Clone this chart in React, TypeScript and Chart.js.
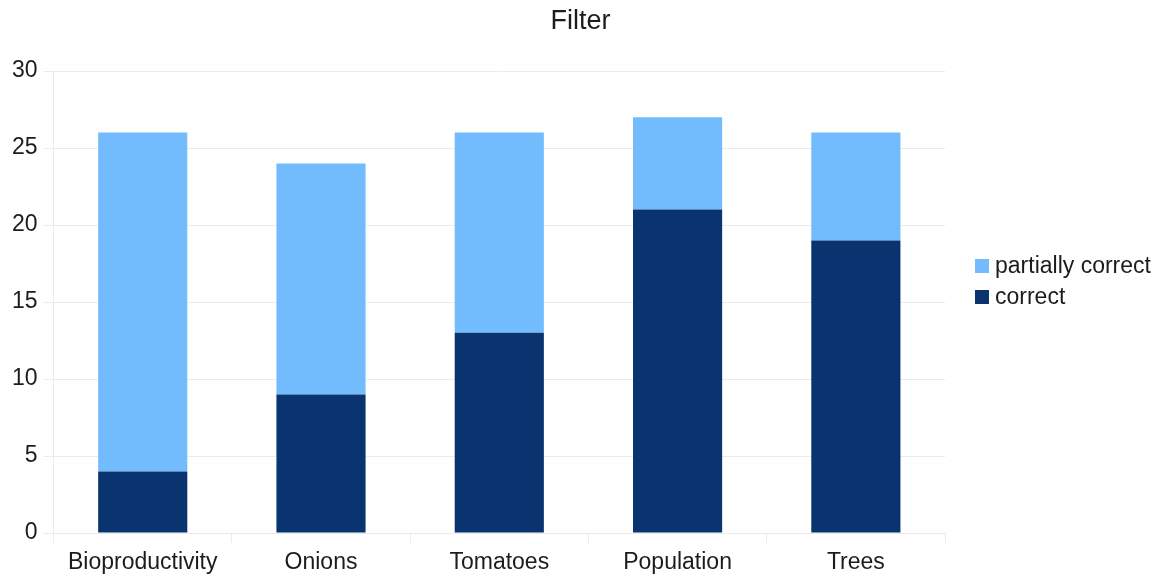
import React, { useEffect, useRef } from "react";
import { Chart, registerables } from "chart.js";

Chart.register(...registerables);

const categories = ["Bioproductivity", "Onions", "Tomatoes", "Population", "Trees"];
const correct = [4, 9, 13, 21, 19];
const partiallyCorrect = [22, 15, 13, 6, 7];
const yTicks = [0, 5, 10, 15, 20, 25, 30];
const titleText = "Filter";

const FONT = "'Liberation Sans', Arial, sans-serif";
const TEXT = "#1c1c1c";
const GRID = "#ebebeb";

const decorations = {
  id: "decorations",
  afterDraw(chart: any) {
    const ctx = chart.ctx;
    const area = chart.chartArea;
    ctx.save();
    // title centered on the whole canvas
    ctx.font = `27px ${FONT}`;
    ctx.fillStyle = TEXT;
    ctx.textAlign = "center";
    ctx.textBaseline = "middle";
    ctx.fillText(titleText, chart.width / 2, 22);
    // legend on the right
    const items = chart.data.datasets.slice().reverse();
    const rowH = 31;
    const startY = chart.height / 2 - 8 - ((items.length - 1) * rowH) / 2;
    const x = area.right + 30;
    ctx.font = `23px ${FONT}`;
    ctx.textAlign = "left";
    items.forEach((ds: any, i: number) => {
      const cy = startY + i * rowH;
      ctx.fillStyle = ds.backgroundColor;
      ctx.fillRect(x, cy - 7, 14, 14);
      ctx.fillStyle = TEXT;
      ctx.fillText(ds.label, x + 20, cy + 1);
    });
    ctx.restore();
  },
};

export default function App() {
  const ref = useRef<HTMLCanvasElement | null>(null);
  useEffect(() => {
    if (!ref.current) return;
    const chart = new Chart(ref.current, {
      type: "bar",
      data: {
        labels: categories,
        datasets: [
          {
            label: "correct",
            data: correct,
            backgroundColor: "#0a346f",
            borderWidth: 0,
            barPercentage: 0.5,
            categoryPercentage: 1,
            stack: "s",
          },
          {
            label: "partially correct",
            data: partiallyCorrect,
            backgroundColor: "#72bcfe",
            borderWidth: 0,
            barPercentage: 0.5,
            categoryPercentage: 1,
            stack: "s",
          },
        ],
      },
      plugins: [decorations],
      options: {
        animation: false,
        responsive: false,
        maintainAspectRatio: false,
        layout: { padding: { top: 71, right: 216, bottom: 0, left: 6 } },
        plugins: {
          title: { display: false },
          legend: { display: false },
          tooltip: { enabled: false },
        },
        scales: {
          x: {
            stacked: true,
            afterFit: (scale: any) => {
              scale.height = 46;
            },
            grid: {
              offset: true,
              tickLength: 10,
              color: (c: any) => (c.index === 0 || c.index === categories.length ? GRID : "rgba(0,0,0,0)"),
              tickColor: GRID,
            },
            border: { color: GRID },
            ticks: { color: TEXT, font: { family: FONT, size: 23 }, padding: 6 },
          },
          y: {
            stacked: true,
            min: 0,
            max: 30,
            afterBuildTicks: (axis: any) => {
              axis.ticks = yTicks.map((v) => ({ value: v }));
            },
            grid: { color: GRID, tickLength: 10 },
            border: { color: GRID },
            ticks: { color: TEXT, font: { family: FONT, size: 23 }, padding: 6 },
          },
        },
      },
    });
    return () => chart.destroy();
  }, []);
  return (
    <div style={{ position: "fixed", left: 0, top: 0, width: 1161, height: 579, background: "#fff" }}>
      <canvas ref={ref} width={1161} height={579} style={{ width: 1161, height: 579 }} />
    </div>
  );
}
